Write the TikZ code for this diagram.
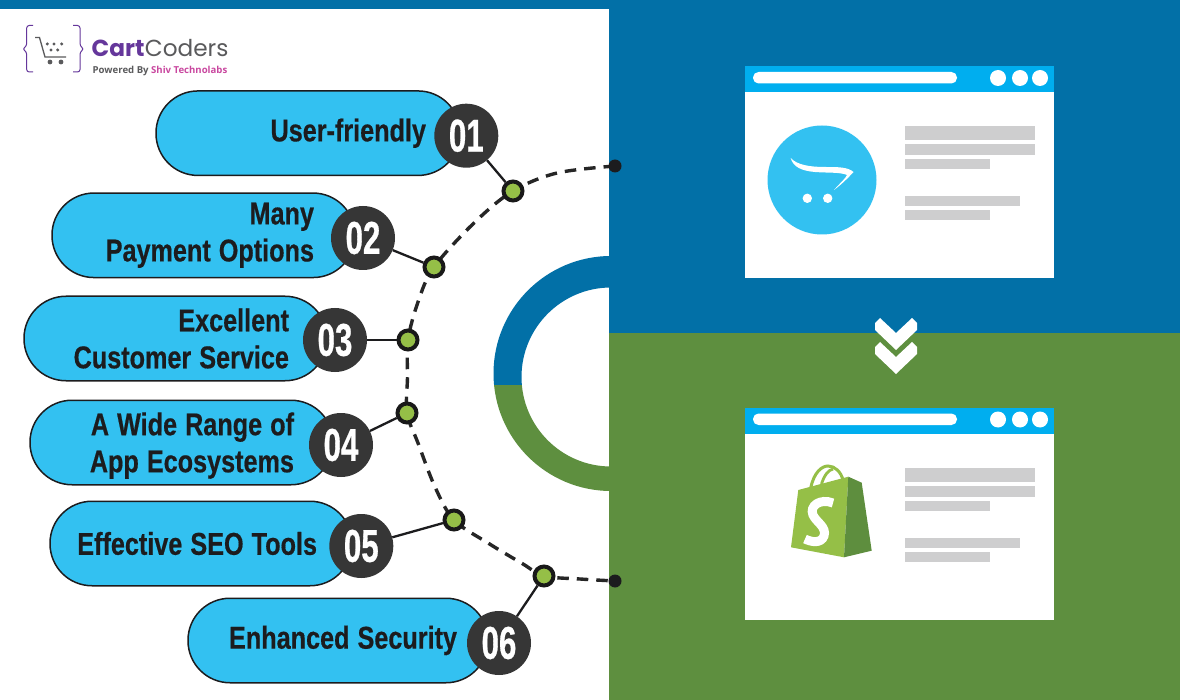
\documentclass[tikz,border=0pt]{standalone}
\usepackage{fontspec}
\usetikzlibrary{calc}
\newfontfamily\pillfont[FakeStretch=0.8, FakeBold=0.5, WordSpace=1.15]{Liberation Sans Bold}
\newfontfamily\numfont[FakeStretch=0.68, FakeBold=0.6]{Liberation Sans Bold}
\newfontfamily\logobold{Poppins}[BoldFont={* Bold}]
\newfontfamily\logosmall{Open Sans}
\definecolor{panelblue}{HTML}{0270A7}
\definecolor{panelgreen}{HTML}{5E8F3F}
\definecolor{pillblue}{HTML}{33C1F1}
\definecolor{barblue}{HTML}{00AEEF}
\definecolor{numgrey}{HTML}{363636}
\definecolor{inkdark}{HTML}{1C1C1E}
\definecolor{dotgreen}{HTML}{95BF47}
\definecolor{bagdark}{HTML}{5E8E3E}
\definecolor{linegrey}{HTML}{CECECF}
\definecolor{logopurple}{HTML}{65379B}
\definecolor{logogrey}{HTML}{5A5A5C}
\definecolor{logopink}{HTML}{C9479F}
\tikzset{
	pillbox/.style={draw=inkdark, line width=1.5pt, fill=pillblue, rounded corners=42pt, minimum height=84.5pt, inner ysep=0pt, align=flush right, text=inkdark, font=\pillfont\fontsize{31.5}{37}\selectfont},
	numdisc/.style={circle, fill=numgrey, minimum size=64pt, inner sep=0pt, text=white, font=\numfont\fontsize{46}{46}\selectfont},
	arcdot/.style={circle, draw=black!90, line width=4pt, fill=dotgreen, minimum size=19pt, inner sep=0pt},
	enddot/.style={circle, fill=inkdark, minimum size=13pt, inner sep=0pt},
	stemline/.style={line width=2.3pt, color=inkdark},
	arcline/.style={line width=3.4pt, color=black!85, dash pattern=on 11.5pt off 8pt},
	greybar/.style={fill=linegrey, draw=none}
}
\begin{document}
\begin{tikzpicture}[x=1pt, y=-1pt]
	%%%%% START %%%%%
	\useasboundingbox (0, 0) rectangle (1180, 700);
	\fill[white] (0, 0) rectangle (1180, 700);
	
	% ring behind the panels
	\begin{scope}
		\clip (480, 240) rectangle (620, 385.5);
		\fill[panelblue, even odd rule] (611, 373.5) circle (117.5) (611, 377) circle (89.5);
	\end{scope}
	\begin{scope}
		\clip (480, 385.5) rectangle (620, 500);
		\fill[panelgreen, even odd rule] (611, 373.5) circle (117.5) (611, 377) circle (89.5);
	\end{scope}
	
	\fill[panelblue] (0, 0) rectangle (1180, 9);
	\fill[panelblue] (609, 0) rectangle (1180, 333);
	\fill[panelgreen] (609, 333) rectangle (1180, 700);
	
	% logo
	\draw[logopurple, line width=1pt, rounded corners=2.5pt] (33, 25.5) -- (26.7, 25.5) -- (26.7, 46) -- (22.5, 49) -- (26.7, 52) -- (26.7, 72) -- (33, 72);
	\draw[logopurple, line width=1pt, rounded corners=2.5pt] (73, 25.5) -- (80, 25.5) -- (80, 46) -- (84, 49) -- (80, 52) -- (80, 72) -- (73, 72);
	\draw[logogrey, line width=1.3pt] (35, 37.5) -- (39.5, 37.5) -- (45, 57) -- (66, 57);
	\foreach \cartx/\carty/\cartr in {47.3/44/1.7, 54/44/1.7, 61.7/44/1.7, 51/50/1.7, 57.7/50/1.7, 50/62/2.4, 61/62/2.4}
		\fill[logogrey] (\cartx, \carty) circle (\cartr);
	\node[anchor=base west, inner sep=0pt, text=logopurple, font=\logobold\bfseries\fontsize{23.2}{24}\selectfont] (logoCart) at (91.5, 57) {Cart};
	\node[anchor=base west, inner sep=0pt, text=logogrey, font=\logobold\fontsize{23.2}{24}\selectfont] (logoCoders) at (logoCart.base east) {Coders};
	\node[anchor=base west, inner sep=0pt, font=\logosmall\bfseries\fontsize{9.6}{10}\selectfont] (logoPower) at (92.5, 74) {\textcolor{logogrey}{Powered By} \textcolor{logopink}{Shiv Technolabs}};
	
	% pills
	\node[pillbox, inner xsep=34pt, text width=236pt] (pillA) at (308, 133.2) {User-friendly};
	\node[pillbox, inner xsep=41pt, text width=221pt] (pillB) at (203.5, 235.3) {Many\\Payment Options};
	\node[pillbox, inner xsep=38pt, text width=227pt] (pillC) at (175.5, 338.5) {Excellent\\Customer Service};
	\node[pillbox, inner xsep=39pt, text width=225pt] (pillD) at (181.5, 442.5) {\rule{0pt}{29pt}A Wide Range of\\App Ecosystems};
	\node[pillbox, inner xsep=35pt, text width=232pt] (pillE) at (201, 543.5) {\hspace*{-12pt}Effective SEO Tools};
	\node[pillbox, inner xsep=31pt, text width=238pt] (pillF) at (338, 640.5) {Enhanced Security};
	
	\node[numdisc] (numA) at (466.3, 135.7) {01};
	\node[numdisc] (numB) at (363, 238) {02};
	\node[numdisc] (numC) at (335, 340) {03};
	\node[numdisc] (numD) at (341, 445) {04};
	\node[numdisc] (numE) at (361.3, 546) {05};
	\node[numdisc] (numF) at (499, 643) {06};
	
	% dashed arc, dots on top
	\coordinate (arcTop) at (615, 166);
	\coordinate (arcA) at (513, 191);
	\coordinate (arcB) at (434, 267);
	\coordinate (arcC) at (408, 340);
	\coordinate (arcD) at (407, 413);
	\coordinate (arcE) at (454, 520);
	\coordinate (arcF) at (544, 576);
	\coordinate (arcEnd) at (615, 581);
	\draw[arcline] plot[smooth, tension=0.55] coordinates {(arcTop) (557, 173) (arcA) (475, 222) (arcB) (418, 302) (arcC) (407.5, 377) (arcD) (418, 443) (435, 487) (arcE) (488, 543) (523, 564) (arcF) (580, 579) (arcEnd)};
	
	\node[enddot] (endTop) at (arcTop) {};
	\node[enddot] (endBottom) at (arcEnd) {};
	\node[arcdot] (dotA) at (arcA) {};
	\node[arcdot] (dotB) at (arcB) {};
	\node[arcdot] (dotC) at (arcC) {};
	\node[arcdot] (dotD) at (arcD) {};
	\node[arcdot] (dotE) at (arcE) {};
	\node[arcdot] (dotF) at (arcF) {};
	
	\draw[stemline] (numA) -- (dotA);
	\draw[stemline] (numB) -- (dotB);
	\draw[stemline] (numC) -- (dotC);
	\draw[stemline] (numD) -- (dotD);
	\draw[stemline] (numE) -- (dotE);
	\draw[stemline] (numF) -- (dotF);
	
	% browser windows
	\foreach \winy in {0, 341.5} {
		\begin{scope}[shift={(0, \winy)}]
			\fill[white] (745, 66) rectangle (1054, 278);
			\fill[barblue] (745, 66) rectangle (1054, 92);
			\fill[white, rounded corners=5.5pt] (753, 72) rectangle (957, 83.5);
			\fill[white] (998, 78) circle (8);
			\fill[white] (1020, 78) circle (8);
			\fill[white] (1040, 78) circle (8);
			\fill[greybar] (905, 126) rectangle (1035, 140);
			\fill[greybar] (905, 144.5) rectangle (1035, 155);
			\fill[greybar] (905, 159) rectangle (990, 169);
			\fill[greybar] (905, 196) rectangle (1020, 206);
			\fill[greybar] (905, 210.5) rectangle (990, 220.5);
		\end{scope}
	}
	
	% cart badge
	\fill[pillblue] (822, 180) circle (54.5);
	\fill[white] (790.7, 158) .. controls (797, 165) and (810, 167) .. (825, 167) .. controls (838, 167) and (848, 167) .. (853.5, 172) .. controls (848, 178) and (842, 184) .. (834, 190) .. controls (840, 183) and (846, 178) .. (847, 175) .. controls (840, 172) and (828, 173) .. (815, 172) .. controls (802, 171) and (793, 167) .. (790.7, 158) -- cycle;
	\fill[white] (807.3, 198.3) circle (4.7);
	\fill[white] (827.7, 198.3) circle (4.7);
	
	% chevrons
	\foreach \chevy in {0, 24}
		\fill[white, shift={(0, \chevy)}] (875, 323) -- (880, 318) -- (896, 333) -- (912, 318) -- (917, 323) -- (917, 330) -- (896, 350) -- (875, 330) -- cycle;
	
	% bag
	\draw[dotgreen, line width=3pt] (810.7, 488) .. controls (814, 472) and (822, 466) .. (828, 466) .. controls (835, 466) and (841, 472) .. (843, 480);
	\draw[dotgreen, line width=2.8pt] (821.5, 484) .. controls (824, 476) and (828, 470) .. (833, 469);
	\fill[dotgreen] (791, 547.3) -- (798.3, 490) -- (848.3, 476.7) -- (844, 557.3) -- cycle;
	\fill[bagdark] (848.3, 476.7) -- (861.7, 482.7) -- (871.7, 550.7) -- (844, 557.3) -- cycle;
	\draw[white, line width=9pt] (833, 503) .. controls (820, 498) and (809, 506) .. (813, 515) .. controls (816, 522) and (827, 527) .. (824, 536) .. controls (821, 544) and (811, 542) .. (805, 539);
	
	%%%%% END %%%%%
\end{tikzpicture}
\end{document}
